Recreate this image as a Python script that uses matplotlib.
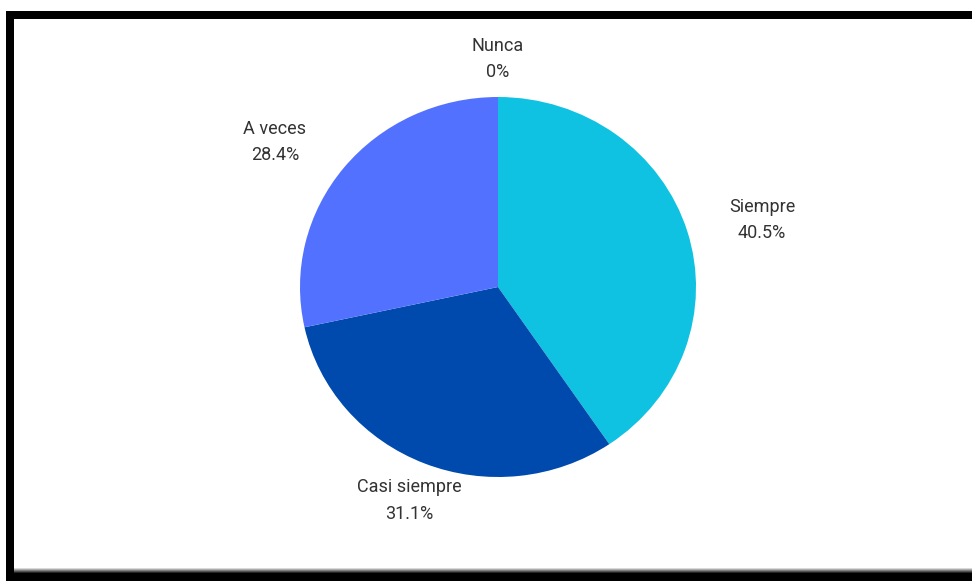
import matplotlib
matplotlib.use("Agg")
import matplotlib.pyplot as plt
import numpy as np
from matplotlib.patches import Rectangle

categories = ["Siempre", "Casi siempre", "A veces", "Nunca"]
values = [40.5, 31.1, 28.4, 0.0]
pct_labels = ["40.5%", "31.1%", "28.4%", "0%"]
colors = ["#0fc2e2", "#004aad", "#5271ff", "#9e9e9e"]
label_dist = [1.38, 1.21, 1.36, 1.20]
label_shift_deg = [-2.3, 0.0, 4.8, 0.0]

plt.rcParams['font.family'] = ['Roboto', 'DejaVu Sans']

W, H = 972, 581
fig = plt.figure(figsize=(W / 100, H / 100), dpi=100)
fig.patch.set_facecolor("white")

# frame
fig.patches.append(Rectangle((6 / W, 0), 8 / W, (H - 11) / H, transform=fig.transFigure,
                             facecolor="black", edgecolor="none", zorder=5))
fig.patches.append(Rectangle((6 / W, (H - 19) / H), (W - 6) / W, 8 / H, transform=fig.transFigure,
                             facecolor="black", edgecolor="none", zorder=5))
fig.patches.append(Rectangle((6 / W, 0), (W - 6) / W, 8 / H, transform=fig.transFigure,
                             facecolor="black", edgecolor="none", zorder=5))
for i, a in enumerate(np.linspace(0.15, 0.85, 5)):
    fig.patches.append(Rectangle((14 / W, (8 + i) / H), (W - 14) / W, 1 / H, transform=fig.transFigure,
                                 facecolor="black", alpha=1 - a, edgecolor="none", zorder=5))

# pie: center (498, 287), rx 198, ry 190
cx, cy, rx, ry = 498, 287, 198, 190
ax = fig.add_axes([(cx - rx * 1.4) / W, (H - cy - ry * 1.4) / H, rx * 2.8 / W, ry * 2.8 / H])

wedges, _ = ax.pie(values, colors=colors, startangle=90, counterclock=False,
                   radius=1.0, wedgeprops=dict(linewidth=0))
ax.set_xlim(-1.4, 1.4)
ax.set_ylim(-1.4, 1.4)
ax.set_aspect('auto')
ax.axis('off')
for w, cat, p, d, s in zip(wedges, categories, pct_labels, label_dist, label_shift_deg):
    mid = np.deg2rad((w.theta1 + w.theta2) / 2 + s)
    ax.text(d * np.cos(mid), d * np.sin(mid), f"{cat}\n{p}", ha='center', va='center',
            fontsize=13, color="#333333", linespacing=1.6, clip_on=False)

fig.savefig("out.png", dpi=100)
